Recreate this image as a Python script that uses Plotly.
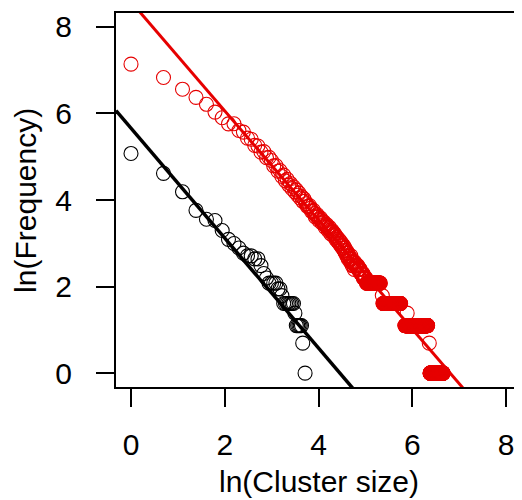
import plotly.graph_objects as go
import numpy as np

# Black series: cluster size -> number of clusters
black_size = [1, 2, 3, 4, 5, 6, 7, 8, 9, 10, 11, 12, 13, 14, 15, 16, 17, 18, 19, 20,
              21, 22, 23, 24, 25, 33, 38, 39, 41]
black_freq = [160, 101, 66, 43, 35, 34, 27, 22, 20, 18, 16, 15, 15, 14, 14, 12, 10, 9, 8, 8,
              8, 8, 7, 7, 6, 4, 3, 2, 1]
# flat runs (consecutive sizes sharing one frequency)
black_run_start = [26, 34]
black_run_end = [32, 37]
black_run_freq = [5, 3]

# Red series
red_size = [1, 2, 3, 4, 5, 6, 7, 8, 9, 10, 11, 12, 13, 14, 15, 16, 17, 18, 19, 20,
            21, 22, 23, 24, 25, 26, 27, 28, 29, 30, 31, 32, 33, 34, 35, 36, 37, 38, 39, 40,
            41, 42, 43, 44, 45, 46, 47, 48, 49, 50, 51, 52, 53, 54, 55, 56, 57, 58, 59, 60,
            61, 62, 63, 64, 65, 66, 67, 68, 69, 70, 71, 72, 73, 74, 75, 76, 77, 78, 79, 80,
            81, 82, 83, 84, 85, 86, 87, 88, 89, 90, 91, 92, 93, 94, 95, 96, 97, 98, 99, 100,
            101, 102, 103, 104, 105, 106, 107, 108, 109, 110, 111, 112, 113, 114, 115, 116,
            117, 118, 119, 120, 213, 362, 580]
red_freq = [1260, 925, 706, 585, 498, 416, 365, 317, 318, 272, 262, 228, 222, 193, 190, 165, 167, 145, 146, 136,
            120, 121, 106, 108, 94, 97, 85, 88, 77, 80, 71, 74, 66, 69, 61, 64, 57, 59, 53, 56,
            53, 50, 47, 47, 48, 45, 42, 42, 43, 40, 37, 38, 39, 37, 34, 35, 36, 34, 32, 33,
            33, 31, 29, 30, 31, 29, 27, 28, 29, 27, 25, 26, 27, 26, 24, 25, 25, 24, 22, 23,
            23, 21, 21, 22, 20, 20, 21, 19, 19, 20, 18, 18, 19, 17, 17, 18, 16, 16, 17, 15,
            16, 16, 14, 15, 15, 14, 14, 13, 15, 14, 13, 12, 13, 13, 12, 13,
            11, 13, 12, 12, 6, 4, 2]
red_run_start = [121, 127, 134, 142, 152, 216, 345, 590]
red_run_end = [126, 133, 141, 150, 204, 315, 560, 780]
red_run_freq = [12, 11, 10, 9, 8, 5, 3, 1]

# fitted lines: intercept, slope
black_fit = (5.66, -1.27)
red_fit = (8.58, -1.26)

x_range = [-0.32, 8.32]
y_range = [-0.32, 8.32]
ticks = [0, 2, 4, 6, 8]


def expand(size, freq, starts, ends, fr):
    s = list(size)
    f = list(freq)
    for a, b, c in zip(starts, ends, fr):
        for k in range(a, b + 1):
            s.append(k)
            f.append(c)
    return np.log(s), np.log(f)


bx, by = expand(black_size, black_freq, black_run_start, black_run_end, black_run_freq)
rx, ry = expand(red_size, red_freq, red_run_start, red_run_end, red_run_freq)

RED = "#e60000"
BLACK = "#000000"
font = "Liberation Sans, Arial, Helvetica, sans-serif"
FS = 30

fig = go.Figure()

for xs, ys, col in [(bx, by, BLACK), (rx, ry, RED)]:
    fig.add_trace(go.Scatter(x=xs, y=ys, mode="markers",
                             marker=dict(symbol="circle-open", size=14, color=col,
                                         line=dict(width=1.1, color=col))))

# regression lines across the whole plot (like abline)
lx = np.array(x_range)
for (a, b), col, w in [(black_fit, BLACK, 3.5), (red_fit, RED, 3)]:
    fig.add_trace(go.Scatter(x=lx, y=a + b * lx, mode="lines",
                             line=dict(color=col, width=w)))

axis_common = dict(showline=True, linewidth=2, linecolor="black", mirror=True,
                   ticks="outside", ticklen=18, tickwidth=2, tickcolor="black",
                   tickvals=ticks, showgrid=False, zeroline=False, automargin=False,
                   tickfont=dict(size=FS, color="black", family=font))

fig.update_xaxes(range=x_range, ticklabelstandoff=12, **axis_common)
fig.update_yaxes(range=y_range, ticklabelstandoff=18, **axis_common)

# axis titles placed like R's xlab / ylab
fig.add_annotation(text="ln(Cluster size)", xref="paper", yref="paper",
                   x=0.501, y=-0.254, xanchor="center", yanchor="middle",
                   showarrow=False, font=dict(size=FS, color="black", family=font))
fig.add_annotation(text="ln(Frequency)", xref="paper", yref="paper",
                   x=-0.225, y=0.5, xanchor="center", yanchor="middle", textangle=-90,
                   showarrow=False, font=dict(size=FS, color="black", family=font))

# page body has an 8px margin, so the figure is 8px smaller than the window
fig.update_layout(width=514, height=492, showlegend=False,
                  margin=dict(l=108, r=1, t=5, b=113),
                  plot_bgcolor="white", paper_bgcolor="white",
                  font=dict(family=font, color="black"))

fig.write_html("out.html")
